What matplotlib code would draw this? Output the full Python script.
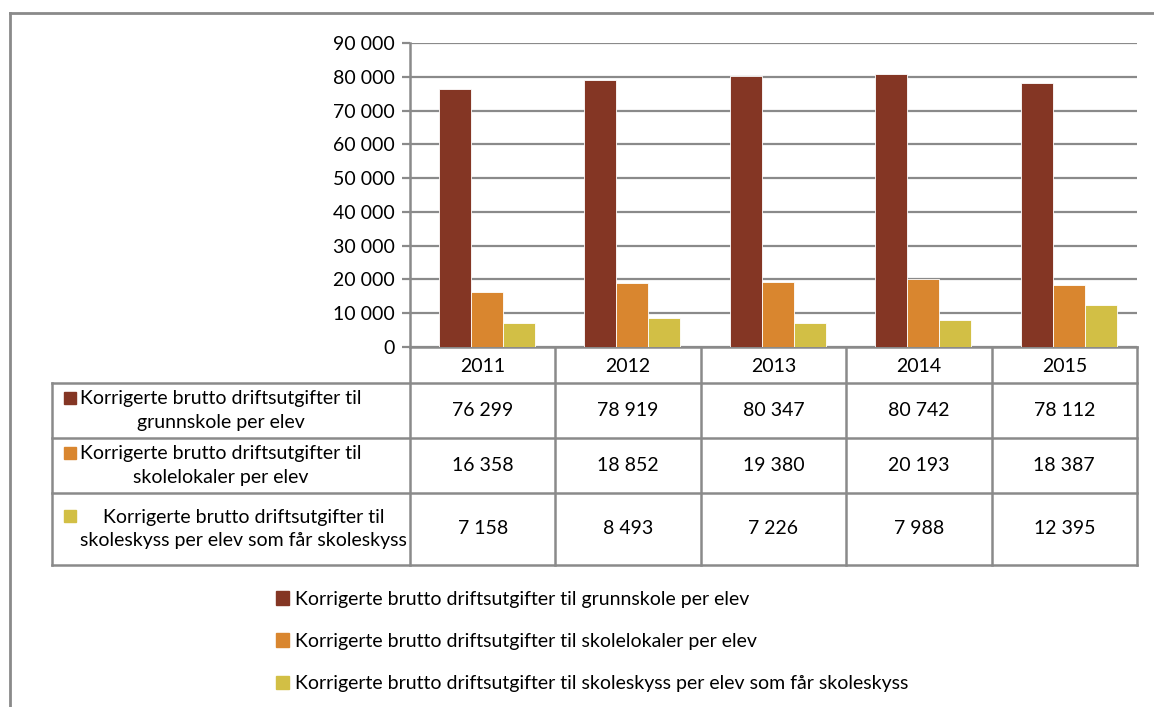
import matplotlib.pyplot as plt
from matplotlib.patches import Rectangle, Patch

# data
years = ['2011', '2012', '2013', '2014', '2015']
grunnskole = [76299, 78919, 80347, 80742, 78112]
skolelokaler = [16358, 18852, 19380, 20193, 18387]
skoleskyss = [7158, 8493, 7226, 7988, 12395]

series_names = [
    'Korrigerte brutto driftsutgifter til grunnskole per elev',
    'Korrigerte brutto driftsutgifter til skolelokaler per elev',
    'Korrigerte brutto driftsutgifter til skoleskyss per elev som får skoleskyss',
]
row_labels = [
    'Korrigerte brutto driftsutgifter til\ngrunnskole per elev',
    'Korrigerte brutto driftsutgifter til\nskolelokaler per elev',
    'Korrigerte brutto driftsutgifter til\nskoleskyss per elev som får skoleskyss',
]
colors = ['#843624', '#D9862F', '#D2BF45']
series = [grunnskole, skolelokaler, skoleskyss]

def fmt(v):
    return '{:,}'.format(int(v)).replace(',', ' ')

W, H = 1154, 707
plt.rcParams['font.family'] = ['Lato', 'DejaVu Sans']
fs = 14
grey = '#8a8a8a'

fig = plt.figure(figsize=(W / 100, H / 100), dpi=100)

# overlay in pixel coordinates for the frame and the data table
ov = fig.add_axes([0, 0, 1, 1])
ov.set_xlim(0, W)
ov.set_ylim(H, 0)
ov.axis('off')

# outer frame (top and left only visible)
ov.plot([10, 10], [13, H], color=grey, lw=2)
ov.plot([10, W], [13, 13], color=grey, lw=2)

# plot area
x0, x1, y_top, y_bot = 410, 1137, 43, 347
ax = fig.add_axes([x0 / W, 1 - y_bot / H, (x1 - x0) / W, (y_bot - y_top) / H])
ax.set_xlim(-0.5, len(years) - 0.5)
ax.set_ylim(0, 90000)

bw = 0.22
offsets = [-bw, 0, bw]
for vals, c, off, name in zip(series, colors, offsets, series_names):
    ax.bar([i + off + 0.03 for i in range(len(years))], vals, width=bw, color=c,
           edgecolor='white', linewidth=0.6, label=name, zorder=3)

ax.set_yticks(range(0, 90001, 10000))
ax.set_yticklabels([fmt(t) for t in range(0, 90001, 10000)], fontsize=fs)
ax.yaxis.grid(True, color=grey, lw=1.6)
ax.set_axisbelow(True)
ax.set_xticks([])
for s in ['top', 'right']:
    ax.spines[s].set_visible(False)
ax.spines['left'].set_color(grey)
ax.spines['left'].set_linewidth(1.8)
ax.spines['bottom'].set_color(grey)
ax.spines['bottom'].set_linewidth(1.8)
ax.tick_params(axis='y', length=6, width=1.6, color=grey, pad=5)

# data table
ncol = len(years)
cw = (x1 - x0) / ncol
col_edges = [x0 + i * cw for i in range(ncol + 1)]
row_edges = [383, 438, 493, 565]
tl = 52

for xe in col_edges:
    ov.plot([xe, xe], [y_bot, row_edges[-1]], color=grey, lw=1.8)
ov.plot([tl, tl], [row_edges[0], row_edges[-1]], color=grey, lw=1.8)
for ye in row_edges:
    ov.plot([tl, x1], [ye, ye], color=grey, lw=1.8)

for i, y in enumerate(years):
    ov.text(col_edges[i] + cw / 2, (y_bot + row_edges[0]) / 2 + 1, y,
            ha='center', va='center', fontsize=fs)

for r in range(3):
    yc = (row_edges[r] + row_edges[r + 1]) / 2
    ov.add_patch(Rectangle((64, yc - 19), 12, 12, color=colors[r]))
    ov.text(80, yc, row_labels[r], ha='left', va='center',
            multialignment='center', fontsize=fs, linespacing=1.45)
    for i in range(ncol):
        ov.text(col_edges[i] + cw / 2, yc, fmt(series[r][i]),
                ha='center', va='center', fontsize=fs)

# legend
handles = [Patch(color=c) for c in colors]
fig.legend(handles, series_names, loc='upper left',
           bbox_to_anchor=(266 / W, 1 - 581 / H), frameon=False, fontsize=fs,
           handlelength=0.7, handleheight=0.7, handletextpad=0.3,
           labelspacing=1.3, borderpad=0)

fig.savefig('out.png', dpi=100)
